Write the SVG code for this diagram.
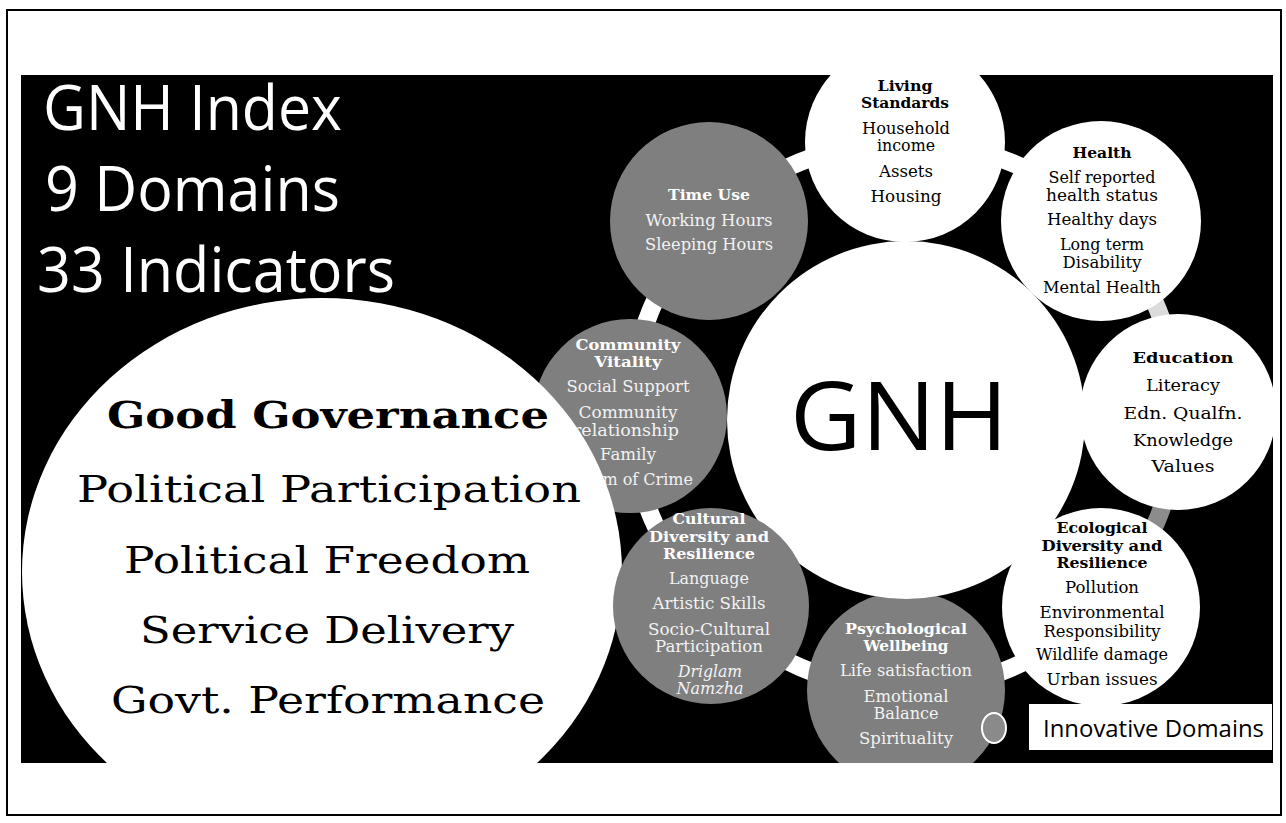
<svg xmlns="http://www.w3.org/2000/svg" width="1286" height="823" viewBox="0 0 1286 823">
<defs>
  <clipPath id="slide"><rect x="21" y="75" width="1252" height="688"/></clipPath>
  <style>
    .ttl{font-family:"Open Sans","Liberation Sans",sans-serif;fill:#fff;font-size:63px}
    .gnh{font-family:"Open Sans","Liberation Sans",sans-serif;fill:#000;font-size:96px}
    .dm{font-family:"DejaVu Serif","Liberation Serif",serif;font-size:16px;text-anchor:middle}
    .b{font-weight:bold;font-size:15px}
    .i{font-style:italic}
    .dk{fill:#000}
    .lt{fill:#f2f2f2}
    .lb{fill:#ffffff}
    .gg{font-family:"DejaVu Serif","Liberation Serif",serif;font-size:38px;text-anchor:middle;fill:#000}
    .ggb{font-weight:bold;font-size:38px}
    .wc{fill:#ffffff}
    .gc{fill:#7f7f7f}
    .cn{fill:none;stroke-width:18}
  </style>
</defs>
<rect x="7" y="10" width="1274" height="805" fill="#fff" stroke="#000" stroke-width="2"/>
<rect x="21" y="75" width="1252" height="688" fill="#000"/>

<g clip-path="url(#slide)">
  <g id="connectors">
    <path class="cn" stroke="#ffffff" d="M905,142 A280,280 0 0 1 1101,221"/>
    <path class="cn" stroke="#dcdcdc" d="M1101,221 A280,280 0 0 1 1178,412"/>
    <path class="cn" stroke="#8c8c8c" d="M1178,412 A280,280 0 0 1 1101,607"/>
    <path class="cn" stroke="#ffffff" d="M1101,607 A280,280 0 0 1 906,690"/>
    <path class="cn" stroke="#ffffff" d="M906,690 A280,280 0 0 1 711,606"/>
    <path class="cn" stroke="#ffffff" d="M711,606 A280,280 0 0 1 630,416"/>
    <path class="cn" stroke="#ffffff" d="M630,416 A280,280 0 0 1 709,221"/>
    <path class="cn" stroke="#ffffff" d="M709,221 A280,280 0 0 1 905,142"/>
  </g>

  <g id="psychological">
    <circle class="gc" cx="906" cy="690" r="99"/>
    <text class="dm b lb" x="906" y="634" textLength="122" lengthAdjust="spacingAndGlyphs">Psychological</text>
    <text class="dm b lb" x="906" y="651" textLength="85" lengthAdjust="spacingAndGlyphs">Wellbeing</text>
    <text class="dm lt" x="906" y="676" textLength="132" lengthAdjust="spacingAndGlyphs">Life satisfaction</text>
    <text class="dm lt" x="906" y="702" textLength="85" lengthAdjust="spacingAndGlyphs">Emotional</text>
    <text class="dm lt" x="906" y="719" textLength="65" lengthAdjust="spacingAndGlyphs">Balance</text>
    <text class="dm lt" x="906" y="744" textLength="94" lengthAdjust="spacingAndGlyphs">Spirituality</text>
    <ellipse cx="994" cy="728" rx="12" ry="15" fill="#8a8a8a" stroke="#fff" stroke-width="2"/>
  </g>

  <g id="gnh">
    <circle class="wc" cx="906" cy="420" r="179"/>
    <text class="gnh" x="899" y="450" text-anchor="middle" textLength="218" lengthAdjust="spacingAndGlyphs">GNH</text>
  </g>

  <g id="living-standards">
    <circle class="wc" cx="905" cy="142" r="100"/>
    <text class="dm b dk" x="905" y="91" textLength="55" lengthAdjust="spacingAndGlyphs">Living</text>
    <text class="dm b dk" x="905" y="108" textLength="88" lengthAdjust="spacingAndGlyphs">Standards</text>
    <text class="dm dk" x="906" y="134" textLength="88" lengthAdjust="spacingAndGlyphs">Household</text>
    <text class="dm dk" x="906" y="151" textLength="58" lengthAdjust="spacingAndGlyphs">income</text>
    <text class="dm dk" x="906" y="177" textLength="54" lengthAdjust="spacingAndGlyphs">Assets</text>
    <text class="dm dk" x="906" y="202" textLength="71" lengthAdjust="spacingAndGlyphs">Housing</text>
  </g>

  <g id="health">
    <circle class="wc" cx="1101" cy="221" r="100"/>
    <text class="dm b dk" x="1102" y="158" textLength="59" lengthAdjust="spacingAndGlyphs">Health</text>
    <text class="dm dk" x="1102" y="183" textLength="107" lengthAdjust="spacingAndGlyphs">Self reported</text>
    <text class="dm dk" x="1102" y="201" textLength="112" lengthAdjust="spacingAndGlyphs">health status</text>
    <text class="dm dk" x="1102" y="225" textLength="110" lengthAdjust="spacingAndGlyphs">Healthy days</text>
    <text class="dm dk" x="1102" y="250" textLength="84" lengthAdjust="spacingAndGlyphs">Long term</text>
    <text class="dm dk" x="1102" y="268" textLength="79" lengthAdjust="spacingAndGlyphs">Disability</text>
    <text class="dm dk" x="1102" y="293" textLength="118" lengthAdjust="spacingAndGlyphs">Mental Health</text>
  </g>

  <g id="education">
    <circle class="wc" cx="1178" cy="412" r="98"/>
    <text class="dm b dk" x="1183" y="363" textLength="101" lengthAdjust="spacingAndGlyphs">Education</text>
    <text class="dm dk" x="1183" y="391" textLength="74" lengthAdjust="spacingAndGlyphs">Literacy</text>
    <text class="dm dk" x="1183" y="419" textLength="119" lengthAdjust="spacingAndGlyphs">Edn. Qualfn.</text>
    <text class="dm dk" x="1183" y="446" textLength="100" lengthAdjust="spacingAndGlyphs">Knowledge</text>
    <text class="dm dk" x="1183" y="472" textLength="63" lengthAdjust="spacingAndGlyphs">Values</text>
  </g>

  <g id="ecological">
    <circle class="wc" cx="1101" cy="607" r="99"/>
    <text class="dm b dk" x="1102" y="533" textLength="91" lengthAdjust="spacingAndGlyphs">Ecological</text>
    <text class="dm b dk" x="1102" y="551" textLength="121" lengthAdjust="spacingAndGlyphs">Diversity and</text>
    <text class="dm b dk" x="1102" y="568" textLength="91" lengthAdjust="spacingAndGlyphs">Resilience</text>
    <text class="dm dk" x="1102" y="593" textLength="74" lengthAdjust="spacingAndGlyphs">Pollution</text>
    <text class="dm dk" x="1102" y="618" textLength="125" lengthAdjust="spacingAndGlyphs">Environmental</text>
    <text class="dm dk" x="1102" y="637" textLength="117" lengthAdjust="spacingAndGlyphs">Responsibility</text>
    <text class="dm dk" x="1102" y="660" textLength="132" lengthAdjust="spacingAndGlyphs">Wildlife damage</text>
    <text class="dm dk" x="1102" y="685" textLength="111" lengthAdjust="spacingAndGlyphs">Urban issues</text>
  </g>

  <g id="time-use">
    <circle class="gc" cx="709" cy="221" r="99"/>
    <text class="dm b lb" x="709" y="200" textLength="82" lengthAdjust="spacingAndGlyphs">Time Use</text>
    <text class="dm lt" x="709" y="226" textLength="127" lengthAdjust="spacingAndGlyphs">Working Hours</text>
    <text class="dm lt" x="709" y="250" textLength="128" lengthAdjust="spacingAndGlyphs">Sleeping Hours</text>
  </g>

  <g id="community-vitality">
    <circle class="gc" cx="630" cy="416" r="97"/>
    <text class="dm b lb" x="628" y="350" textLength="105" lengthAdjust="spacingAndGlyphs">Community</text>
    <text class="dm b lb" x="628" y="367" textLength="67" lengthAdjust="spacingAndGlyphs">Vitality</text>
    <text class="dm lt" x="628" y="392" textLength="123" lengthAdjust="spacingAndGlyphs">Social Support</text>
    <text class="dm lt" x="628" y="418" textLength="99" lengthAdjust="spacingAndGlyphs">Community</text>
    <text class="dm lt" x="626" y="436" textLength="106" lengthAdjust="spacingAndGlyphs">relationship</text>
    <text class="dm lt" x="628" y="460" textLength="56" lengthAdjust="spacingAndGlyphs">Family</text>
    <text class="dm lt" x="693" y="485" style="text-anchor:end">Victim of Crime</text>
  </g>

  <g id="good-governance">
    <ellipse class="wc" cx="322" cy="572" rx="300" ry="274"/>
    <text class="gg ggb" x="328" y="428" textLength="442" lengthAdjust="spacingAndGlyphs">Good Governance</text>
    <text class="gg" x="329" y="502" textLength="504" lengthAdjust="spacingAndGlyphs">Political Participation</text>
    <text class="gg" x="327" y="573" textLength="406" lengthAdjust="spacingAndGlyphs">Political Freedom</text>
    <text class="gg" x="327" y="643" textLength="374" lengthAdjust="spacingAndGlyphs">Service Delivery</text>
    <text class="gg" x="328" y="713" textLength="434" lengthAdjust="spacingAndGlyphs">Govt. Performance</text>
  </g>

  <g id="cultural">
    <circle class="gc" cx="711" cy="606" r="98"/>
    <text class="dm b lb" x="709" y="524" textLength="73" lengthAdjust="spacingAndGlyphs">Cultural</text>
    <text class="dm b lb" x="709" y="542" textLength="120" lengthAdjust="spacingAndGlyphs">Diversity and</text>
    <text class="dm b lb" x="709" y="559" textLength="92" lengthAdjust="spacingAndGlyphs">Resilience</text>
    <text class="dm lt" x="709" y="584" textLength="80" lengthAdjust="spacingAndGlyphs">Language</text>
    <text class="dm lt" x="709" y="609" textLength="113" lengthAdjust="spacingAndGlyphs">Artistic Skills</text>
    <text class="dm lt" x="709" y="635" textLength="122" lengthAdjust="spacingAndGlyphs">Socio-Cultural</text>
    <text class="dm lt" x="709" y="652" textLength="108" lengthAdjust="spacingAndGlyphs">Participation</text>
    <text class="dm i lt" x="710" y="677" textLength="64" lengthAdjust="spacingAndGlyphs">Driglam</text>
    <text class="dm i lt" x="710" y="694" textLength="67" lengthAdjust="spacingAndGlyphs">Namzha</text>
  </g>
</g>

<g id="title">
  <text class="ttl" x="43" y="130" textLength="299" lengthAdjust="spacingAndGlyphs">GNH Index</text>
  <text class="ttl" x="45" y="211" textLength="295" lengthAdjust="spacingAndGlyphs">9 Domains</text>
  <text class="ttl" x="37" y="292" textLength="358" lengthAdjust="spacingAndGlyphs">33 Indicators</text>
</g>

<g id="innovative-domains">
  <rect x="1029" y="704" width="243" height="46" fill="#fff"/>
  <text x="1043" y="737" font-family="Open Sans, Liberation Sans, sans-serif" font-size="23" fill="#000" textLength="221" lengthAdjust="spacingAndGlyphs">Innovative Domains</text>
</g>
</svg>
